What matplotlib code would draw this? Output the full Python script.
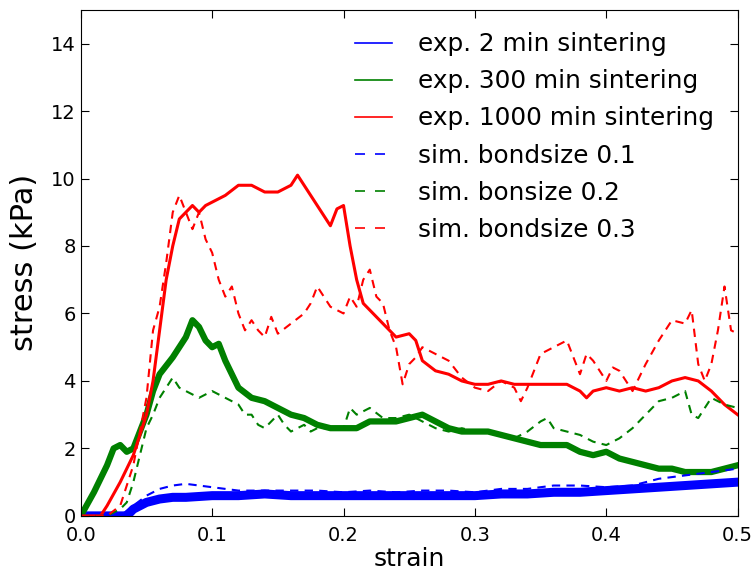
import matplotlib
matplotlib.use("Agg")
import matplotlib.pyplot as plt
from matplotlib.lines import Line2D
import numpy as np

# exp. 1000 min sintering (red solid)
red_x = [0, 0.015, 0.02, 0.03, 0.04, 0.05, 0.055, 0.06, 0.065, 0.07, 0.075, 0.08, 0.085, 0.09, 0.095,
         0.10, 0.11, 0.12, 0.13, 0.14, 0.15, 0.16, 0.165, 0.17, 0.18, 0.19, 0.195, 0.20, 0.205, 0.21,
         0.215, 0.22, 0.23, 0.24, 0.25, 0.255, 0.26, 0.27, 0.28, 0.29, 0.30, 0.31, 0.32, 0.33, 0.34,
         0.35, 0.36, 0.37, 0.38, 0.385, 0.39, 0.40, 0.41, 0.42, 0.43, 0.44, 0.45, 0.46, 0.47, 0.48,
         0.49, 0.50]
red_y = [0, 0, 0.3, 1.0, 1.8, 3.0, 4.0, 5.5, 7.0, 8.0, 8.8, 9.0, 9.2, 9.0, 9.2,
         9.3, 9.5, 9.8, 9.8, 9.6, 9.6, 9.8, 10.1, 9.8, 9.2, 8.6, 9.1, 9.2, 8.0, 7.0,
         6.3, 6.1, 5.7, 5.3, 5.4, 5.2, 4.6, 4.3, 4.2, 4.0, 3.9, 3.9, 4.0, 3.9, 3.9,
         3.9, 3.9, 3.9, 3.7, 3.5, 3.7, 3.8, 3.7, 3.8, 3.7, 3.8, 4.0, 4.1, 4.0, 3.7,
         3.3, 3.0]

# sim. bondsize 0.3 (red dashed)
red_sim_x = [0, 0.02, 0.03, 0.04, 0.05, 0.055, 0.06, 0.065, 0.07, 0.075, 0.08, 0.085, 0.09, 0.095,
             0.10, 0.105, 0.11, 0.115, 0.12, 0.125, 0.13, 0.135, 0.14, 0.145, 0.15, 0.16, 0.17, 0.175,
             0.18, 0.185, 0.19, 0.20, 0.205, 0.21, 0.215, 0.22, 0.225, 0.23, 0.235, 0.24, 0.245, 0.25,
             0.255, 0.26, 0.27, 0.28, 0.29, 0.30, 0.31, 0.32, 0.33, 0.335, 0.34, 0.35, 0.36, 0.37,
             0.375, 0.38, 0.385, 0.39, 0.40, 0.405, 0.41, 0.415, 0.42, 0.43, 0.44, 0.45, 0.46, 0.465,
             0.47, 0.475, 0.48, 0.485, 0.49, 0.495, 0.50]
red_sim_y = [0, 0, 0.3, 1.5, 3.5, 5.5, 6.2, 7.5, 9.0, 9.5, 9.0, 8.5, 9.0, 8.2,
             7.8, 7.0, 6.5, 6.8, 6.0, 5.5, 5.8, 5.5, 5.3, 5.9, 5.4, 5.7, 6.0, 6.3,
             6.8, 6.5, 6.2, 6.0, 6.5, 6.2, 7.0, 7.3, 6.5, 6.3, 5.5, 5.0, 3.9, 4.5,
             4.7, 5.0, 4.8, 4.6, 4.1, 3.8, 3.7, 4.0, 3.8, 3.4, 3.8, 4.8, 5.0, 5.2,
             4.7, 4.2, 4.8, 4.6, 4.0, 4.4, 4.3, 4.0, 3.7, 4.5, 5.2, 5.8, 5.7, 6.1,
             4.5, 4.0, 4.5, 5.5, 6.8, 5.5, 5.4]

# exp. 300 min sintering (green solid)
green_x = [0, 0.01, 0.02, 0.025, 0.03, 0.035, 0.04, 0.045, 0.05, 0.055, 0.06, 0.07, 0.08, 0.085,
           0.09, 0.095, 0.10, 0.105, 0.11, 0.115, 0.12, 0.13, 0.14, 0.15, 0.16, 0.17, 0.18, 0.19,
           0.20, 0.21, 0.22, 0.23, 0.24, 0.25, 0.26, 0.27, 0.28, 0.29, 0.30, 0.31, 0.32, 0.33,
           0.34, 0.35, 0.36, 0.37, 0.38, 0.39, 0.40, 0.41, 0.42, 0.43, 0.44, 0.45, 0.46, 0.47,
           0.48, 0.49, 0.50]
green_y = [0, 0.7, 1.5, 2.0, 2.1, 1.9, 2.0, 2.5, 3.0, 3.7, 4.2, 4.7, 5.3, 5.8,
           5.6, 5.2, 5.0, 5.1, 4.6, 4.2, 3.8, 3.5, 3.4, 3.2, 3.0, 2.9, 2.7, 2.6,
           2.6, 2.6, 2.8, 2.8, 2.8, 2.9, 3.0, 2.8, 2.6, 2.5, 2.5, 2.5, 2.4, 2.3,
           2.2, 2.1, 2.1, 2.1, 1.9, 1.8, 1.9, 1.7, 1.6, 1.5, 1.4, 1.4, 1.3, 1.3,
           1.3, 1.4, 1.5]

# sim. bonsize 0.2 (green dashed)
green_sim_x = [0, 0.02, 0.03, 0.035, 0.04, 0.045, 0.05, 0.055, 0.06, 0.065, 0.07, 0.075, 0.08, 0.085,
               0.09, 0.10, 0.11, 0.12, 0.125, 0.13, 0.135, 0.14, 0.15, 0.155, 0.16, 0.17, 0.175, 0.18,
               0.19, 0.20, 0.205, 0.21, 0.22, 0.23, 0.24, 0.25, 0.26, 0.27, 0.28, 0.29, 0.30, 0.31,
               0.32, 0.33, 0.34, 0.35, 0.355, 0.36, 0.37, 0.38, 0.39, 0.40, 0.41, 0.42, 0.43, 0.44,
               0.45, 0.46, 0.465, 0.47, 0.48, 0.49, 0.50]
green_sim_y = [0, 0, 0.2, 0.4, 1.0, 1.8, 2.6, 3.0, 3.5, 3.8, 4.1, 3.8, 3.7, 3.6,
               3.5, 3.7, 3.5, 3.3, 3.0, 3.0, 2.7, 2.6, 3.0, 2.7, 2.5, 2.7, 2.5, 2.6,
               2.6, 2.6, 3.2, 3.0, 3.2, 2.9, 2.9, 3.0, 2.8, 2.6, 2.5, 2.6, 2.5, 2.5,
               2.4, 2.3, 2.5, 2.8, 2.9, 2.6, 2.5, 2.4, 2.2, 2.1, 2.3, 2.6, 3.0, 3.4,
               3.5, 3.7, 3.0, 2.9, 3.5, 3.3, 3.2]

# exp. 2 min sintering (blue solid)
blue_x = [0, 0.035, 0.04, 0.045, 0.05, 0.06, 0.07, 0.08, 0.10, 0.12, 0.14, 0.16, 0.18, 0.20,
          0.22, 0.24, 0.26, 0.28, 0.30, 0.32, 0.34, 0.36, 0.38, 0.40, 0.42, 0.44, 0.46, 0.48, 0.50]
blue_y = [0, 0, 0.2, 0.3, 0.4, 0.5, 0.55, 0.55, 0.6, 0.6, 0.65, 0.6, 0.6, 0.6,
          0.6, 0.6, 0.6, 0.6, 0.6, 0.65, 0.65, 0.7, 0.7, 0.75, 0.8, 0.85, 0.9, 0.95, 1.0]

# sim. bondsize 0.1 (blue dashed)
blue_sim_x = [0, 0.03, 0.04, 0.05, 0.06, 0.07, 0.08, 0.09, 0.10, 0.11, 0.12, 0.14, 0.16, 0.18,
              0.20, 0.22, 0.24, 0.26, 0.28, 0.30, 0.32, 0.34, 0.36, 0.38, 0.40, 0.42, 0.44, 0.46,
              0.48, 0.50]
blue_sim_y = [0, 0, 0.3, 0.6, 0.8, 0.9, 0.95, 0.9, 0.85, 0.8, 0.75, 0.75, 0.75, 0.75,
              0.7, 0.75, 0.7, 0.75, 0.75, 0.7, 0.8, 0.8, 0.9, 0.9, 0.85, 0.9, 1.1, 1.2,
              1.3, 1.4]

labels = ['exp. 2 min sintering', 'exp. 300 min sintering', 'exp. 1000 min sintering',
          'sim. bondsize 0.1', 'sim. bonsize 0.2', 'sim. bondsize 0.3']

fig = plt.figure(figsize=(7.55, 5.79), dpi=100)
ax = fig.add_axes([0.107, 0.109, 0.870, 0.874])

# the measured curves are very noisy, drawn here as thick bands
ax.plot(blue_x, blue_y, color='b', lw=6.5)
ax.plot(green_x, green_y, color='g', lw=4.5)
ax.plot(red_x, red_y, color='r', lw=2.2)
ax.plot(blue_sim_x, blue_sim_y, color='b', lw=1.5, dashes=(4, 3))
ax.plot(green_sim_x, green_sim_y, color='g', lw=1.5, dashes=(4, 3))
ax.plot(red_sim_x, red_sim_y, color='r', lw=1.5, dashes=(4, 3))

handles = [Line2D([], [], color='b', lw=1.2),
           Line2D([], [], color='g', lw=1.2),
           Line2D([], [], color='r', lw=1.2),
           Line2D([], [], color='b', lw=1.2, dashes=(6, 6)),
           Line2D([], [], color='g', lw=1.2, dashes=(6, 6)),
           Line2D([], [], color='r', lw=1.2, dashes=(6, 6))]
ax.legend(handles, labels, loc='upper right', bbox_to_anchor=(0.99, 0.99),
          frameon=False, fontsize=17.8, handlelength=1.5, handletextpad=1.05,
          labelspacing=0.53, borderaxespad=0.3)

ax.set_xlim(0, 0.5)
ax.set_ylim(0, 15)
ax.set_xticks(np.arange(0, 0.51, 0.1))
ax.set_yticks(np.arange(0, 15, 2))
ax.tick_params(direction='in', top=True, right=True, length=6, labelsize=14)
ax.tick_params(axis='x', pad=7)
ax.set_xlabel('strain', fontsize=18, labelpad=2)
ax.set_ylabel('stress (kPa)', fontsize=22, labelpad=9)

fig.savefig('out.png', dpi=100)
